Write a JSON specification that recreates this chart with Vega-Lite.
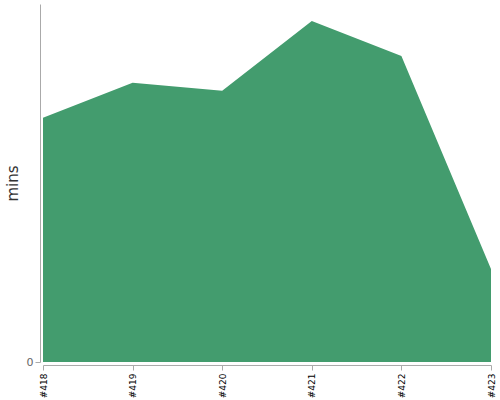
{
  "$schema": "https://vega.github.io/schema/vega-lite/v6.json",
  "width": 448,
  "height": 358,
  "autosize": {"type": "none"},
  "padding": {"left": 43, "top": 4, "right": 9, "bottom": 38},
  "background": "white",
  "config": {"view": {"stroke": null}},
  "data": {
    "values": [
      {"build": "#418", "mins": 27.3},
      {"build": "#419", "mins": 31.2},
      {"build": "#420", "mins": 30.3},
      {"build": "#421", "mins": 38.1},
      {"build": "#422", "mins": 34.2},
      {"build": "#423", "mins": 10.4}
    ]
  },
  "mark": {"type": "area", "color": "#439c6e", "opacity": 1},
  "encoding": {
    "x": {
      "field": "build",
      "type": "ordinal",
      "scale": {"type": "point", "padding": 0},
      "axis": {
        "title": null,
        "labelAngle": -90,
        "labelFont": "DejaVu Sans",
        "labelFontSize": 9,
        "labelColor": "#000",
        "domainColor": "#aaa",
        "tickColor": "#aaa",
        "offset": 3,
        "grid": false,
        "labelPadding": 3
      }
    },
    "y": {
      "field": "mins",
      "type": "quantitative",
      "scale": {"domain": [0, 40], "nice": false},
      "axis": {
        "title": "mins",
        "titleFont": "DejaVu Sans",
        "titleFontSize": 15,
        "titleFontWeight": "normal",
        "titleColor": "#333",
        "titlePadding": 6,
        "values": [0],
        "labelFont": "DejaVu Sans",
        "labelFontSize": 11,
        "labelColor": "#666",
        "domainColor": "#aaa",
        "tickColor": "#aaa",
        "offset": 3,
        "grid": false
      }
    }
  }
}
